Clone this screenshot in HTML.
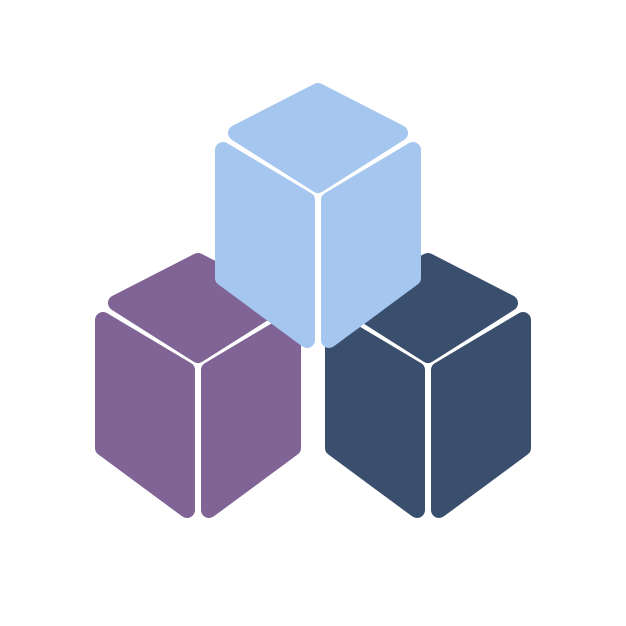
<!DOCTYPE html>
<html><head><meta charset="utf-8"><style>html,body{margin:0;padding:0;background:#fff}svg{display:block}</style></head>
<body>
<svg width="626" height="626" viewBox="0 0 626 626" xmlns="http://www.w3.org/2000/svg">
<defs>
<g id="cube" stroke-linejoin="round" stroke-width="16">
<polygon points="0,9 -82,51 0,103 82,51"/>
<polygon points="-95,68 -11,118 -11,258 -95,196"/>
<polygon points="95,68 11,118 11,258 95,196"/>
</g>
</defs>
<g transform="translate(198,252)" fill="#806496" stroke="#806496"><use href="#cube"/></g>
<g transform="translate(428,252)" fill="#3a4e6e" stroke="#3a4e6e"><use href="#cube"/></g>
<g transform="translate(318,82)" fill="#a5c6ee" stroke="#a5c6ee"><use href="#cube"/></g>
</svg>
</body></html>
